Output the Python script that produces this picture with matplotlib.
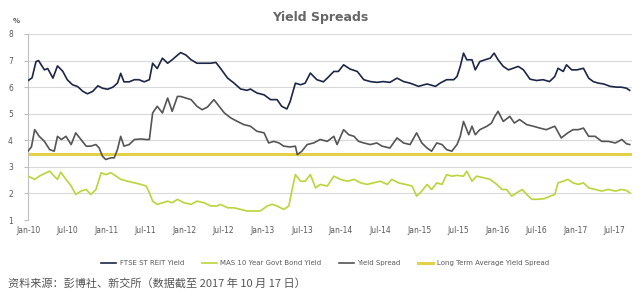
import numpy as np
import matplotlib
matplotlib.use("Agg")
import matplotlib.pyplot as plt

plt.rcParams['font.family'] = ['DejaVu Sans', 'Noto Sans CJK SC']

# x positions are months since Jan-2010
tick_labels = ["Jan-10", "Jul-10", "Jan-11", "Jul-11", "Jan-12", "Jul-12", "Jan-13", "Jul-13",
               "Jan-14", "Jul-14", "Jan-15", "Jul-15", "Jan-16", "Jul-16", "Jan-17", "Jul-17"]

reit_m = [0, 0.6, 1.2, 1.6, 2.0, 2.5, 3.0, 3.8, 4.5, 5.3, 6.0, 6.8, 7.6, 8.4, 9.1, 9.9, 10.7, 11.4,
          12.2, 13.0, 13.7, 14.2, 14.7, 15.5, 16.3, 17.0, 17.8, 18.6, 19.1, 19.8, 20.6, 21.4, 22.1,
          22.9, 23.4, 24.2, 25.0, 25.9, 27.0, 28.0, 28.8, 29.5, 30.6, 31.6, 32.6, 33.6, 34.1, 35.1,
          36.2, 37.2, 38.2, 38.9, 39.7, 40.2, 41.0, 41.8, 42.5, 43.3, 44.3, 45.3, 45.9, 46.9, 47.6,
          48.4, 49.4, 50.5, 51.5, 52.5, 53.5, 54.5, 55.5, 56.6, 57.6, 58.6, 59.9, 61.2, 62.5, 63.2,
          64.2, 65.3, 65.8, 66.3, 66.8, 67.3, 68.1, 68.6, 69.3, 70.1, 70.9, 71.5, 72.1, 72.9, 73.7,
          74.4, 75.2, 76.0, 77.0, 78.0, 79.0, 80.0, 80.8, 81.3, 82.1, 82.6, 83.4, 84.2, 85.2, 86.0,
          86.7, 87.5, 88.3, 89.3, 90.3, 91.0, 91.8, 92.3]
reit_v = [6.25, 6.35, 6.96, 7.0, 6.84, 6.65, 6.7, 6.34, 6.8, 6.6, 6.28, 6.09, 6.02, 5.84, 5.75, 5.84,
          6.05, 5.96, 5.92, 6.0, 6.15, 6.52, 6.2, 6.2, 6.28, 6.28, 6.2, 6.28, 6.9, 6.7, 7.09, 6.9,
          7.03, 7.2, 7.3, 7.21, 7.03, 6.9, 6.9, 6.9, 6.93, 6.71, 6.34, 6.15, 5.93, 5.88, 5.93, 5.78,
          5.71, 5.53, 5.53, 5.28, 5.18, 5.46, 6.15, 6.09, 6.15, 6.53, 6.28, 6.2, 6.34, 6.59, 6.59,
          6.84, 6.68, 6.59, 6.28, 6.21, 6.18, 6.21, 6.18, 6.34, 6.21, 6.15, 6.03, 6.12, 6.03, 6.15,
          6.28, 6.28, 6.4, 6.78, 7.28, 7.03, 7.03, 6.65, 6.96, 7.03, 7.09, 7.28, 7.03, 6.78, 6.65,
          6.71, 6.78, 6.65, 6.3, 6.25, 6.28, 6.21, 6.4, 6.71, 6.59, 6.84, 6.65, 6.65, 6.71, 6.34,
          6.21, 6.15, 6.12, 6.03, 6.0, 6.0, 5.96, 5.88]

mas_m = [0, 1.0, 1.7, 2.5, 3.3, 4.0, 4.5, 5.0, 5.8, 6.6, 7.3, 8.1, 8.9, 9.6, 10.4, 11.2, 11.9, 12.7,
         13.5, 14.2, 15.3, 16.3, 17.3, 18.1, 18.6, 19.1, 19.8, 20.6, 21.4, 22.1, 22.9, 23.9, 25.0,
         25.9, 27.0, 28.0, 29.0, 29.5, 30.6, 31.6, 32.6, 33.6, 34.6, 35.6, 36.7, 37.4, 38.2, 39.2,
         40.0, 40.5, 41.0, 41.8, 42.5, 43.3, 44.1, 44.8, 45.9, 46.9, 47.9, 49.0, 50.0, 51.0, 52.0,
         53.0, 54.0, 55.1, 55.8, 56.8, 57.9, 58.9, 59.6, 60.4, 61.2, 61.9, 62.7, 63.5, 64.2, 65.0,
         65.8, 66.8, 67.3, 68.1, 68.8, 69.9, 70.9, 71.9, 72.7, 73.4, 74.2, 75.0, 75.8, 76.5, 77.3,
         78.1, 79.1, 80.1, 80.8, 81.3, 82.1, 82.8, 83.6, 84.4, 85.2, 86.0, 87.0, 88.0, 89.0, 90.1,
         91.1, 91.8, 92.3]
mas_v = [2.65, 2.53, 2.65, 2.75, 2.84, 2.65, 2.53, 2.8, 2.53, 2.28, 1.96, 2.09, 2.15, 1.96, 2.15,
         2.78, 2.71, 2.78, 2.65, 2.53, 2.46, 2.4, 2.34, 2.28, 2.03, 1.71, 1.59, 1.65, 1.71, 1.65,
         1.78, 1.65, 1.59, 1.71, 1.65, 1.53, 1.53, 1.59, 1.46, 1.46, 1.4, 1.34, 1.34, 1.34, 1.53,
         1.59, 1.53, 1.4, 1.53, 2.15, 2.71, 2.46, 2.46, 2.71, 2.21, 2.34, 2.28, 2.65, 2.53, 2.46,
         2.53, 2.4, 2.34, 2.4, 2.46, 2.34, 2.53, 2.4, 2.34, 2.28, 1.9, 2.09, 2.34, 2.15, 2.4, 2.34,
         2.71, 2.65, 2.68, 2.65, 2.84, 2.46, 2.65, 2.59, 2.53, 2.34, 2.15, 2.15, 1.9, 2.03, 2.15,
         1.96, 1.78, 1.78, 1.8, 1.9, 1.96, 2.4, 2.46, 2.53, 2.4, 2.34, 2.4, 2.21, 2.15, 2.09, 2.15,
         2.09, 2.15, 2.11, 2.03]

spread_m = [0, 0.5, 1.0, 1.7, 2.5, 3.3, 4.0, 4.5, 5.1, 5.8, 6.6, 7.3, 8.1, 8.9, 9.6, 10.4, 10.9,
            11.4, 11.9, 12.7, 13.2, 13.7, 14.2, 14.7, 15.5, 16.3, 17.3, 18.1, 18.6, 19.1, 19.8, 20.6,
            21.4, 22.1, 22.9, 23.4, 24.2, 25.0, 25.9, 26.7, 27.5, 28.5, 29.3, 30.1, 31.1, 32.1, 33.1,
            34.1, 35.1, 36.2, 36.9, 37.7, 38.5, 39.2, 40.2, 41.0, 41.3, 42.0, 42.8, 43.8, 44.8, 45.9,
            46.9, 47.4, 48.4, 49.2, 50.0, 50.7, 51.5, 52.5, 53.5, 54.3, 55.5, 56.6, 57.6, 58.6, 59.6,
            60.4, 61.2, 61.9, 62.7, 63.5, 64.2, 65.0, 65.8, 66.3, 66.8, 67.6, 68.1, 68.6, 69.3, 70.4,
            71.1, 71.6, 72.1, 72.9, 73.9, 74.6, 75.4, 76.5, 77.5, 78.5, 79.5, 80.8, 81.8, 82.8, 83.6,
            84.4, 85.2, 86.0, 87.0, 88.0, 89.0, 90.1, 91.1, 91.8, 92.3]
spread_v = [3.6, 3.75, 4.4, 4.15, 3.96, 3.65, 3.59, 4.15, 4.03, 4.15, 3.84, 4.28, 4.03, 3.78, 3.78,
            3.84, 3.71, 3.4, 3.28, 3.34, 3.34, 3.65, 4.15, 3.78, 3.84, 4.03, 4.05, 4.03, 4.03, 5.03,
            5.28, 5.03, 5.59, 5.09, 5.65, 5.65, 5.59, 5.53, 5.28, 5.15, 5.25, 5.53, 5.28, 5.03, 4.84,
            4.71, 4.59, 4.53, 4.34, 4.28, 3.9, 3.96, 3.9, 3.78, 3.75, 3.78, 3.46, 3.59, 3.84, 3.9,
            4.03, 3.96, 4.15, 3.84, 4.4, 4.21, 4.15, 3.96, 3.9, 3.84, 3.9, 3.78, 3.71, 4.09, 3.9,
            3.84, 4.28, 3.9, 3.71, 3.59, 3.9, 3.84, 3.65, 3.59, 3.84, 4.15, 4.71, 4.21, 4.53, 4.21,
            4.4, 4.53, 4.65, 4.9, 5.09, 4.71, 4.9, 4.65, 4.78, 4.59, 4.53, 4.46, 4.4, 4.53, 4.09,
            4.28, 4.4, 4.4, 4.46, 4.15, 4.15, 3.96, 3.96, 3.9, 4.03, 3.87, 3.84]

lt_avg = 3.47

fig = plt.figure(figsize=(6.4, 2.93), dpi=100)
ax = fig.add_axes([0.044, 0.249, 0.944, 0.635])

ax.plot(reit_m, reit_v, color="#1c2646", lw=1.2, label="FTSE ST REIT Yield", zorder=3)
ax.plot(mas_m, mas_v, color="#bcd43a", lw=1.2, label="MAS 10 Year Govt Bond Yield", zorder=3)
ax.plot(spread_m, spread_v, color="#555555", lw=1.2, label="Yield Spread", zorder=3)
ax.axhline(lt_avg, color="#e2d24a", lw=2.2, label="Long Term Average Yield Spread", zorder=2)

ax.set_ylim(1, 8)
ax.set_xlim(0, 92.7)
ax.set_yticks(range(1, 9))
ax.set_xticks(np.arange(len(tick_labels)) * 6)
ax.set_xticklabels(tick_labels)
ax.grid(axis="y", color="#d9d9d9", lw=0.8)
ax.set_axisbelow(True)
for s in ["top", "right", "bottom"]:
    ax.spines[s].set_visible(False)
ax.spines["left"].set_color("#bfbfbf")
ax.tick_params(axis="both", labelsize=5.5, colors="#595959", length=0, pad=4)
ax.tick_params(axis="y", length=3, color="#bfbfbf", pad=8)

fig.text(0.5, 0.94, "Yield Spreads", ha="center", va="center", fontsize=9,
         fontweight="bold", color="#666666")
fig.text(0.025, 0.93, "%", ha="center", va="center", fontsize=5, color="#595959",
         fontweight="bold")

fig.legend(loc="center", bbox_to_anchor=(0.508, 1 - 263 / 293), ncol=4, frameon=False,
           fontsize=5, handlelength=2.2, columnspacing=2.5, handletextpad=0.5)
for t in fig.legends[0].get_texts():
    t.set_color("#595959")

fig.text(0.012, 1 - 283 / 293, "资料来源：彭博社、新交所（数据截至 2017 年 10 月 17 日）",
         ha="left", va="center", fontsize=8, color="#555555",
         family=["Noto Sans CJK SC", "DejaVu Sans"])

fig.savefig("out.png", dpi=100)
